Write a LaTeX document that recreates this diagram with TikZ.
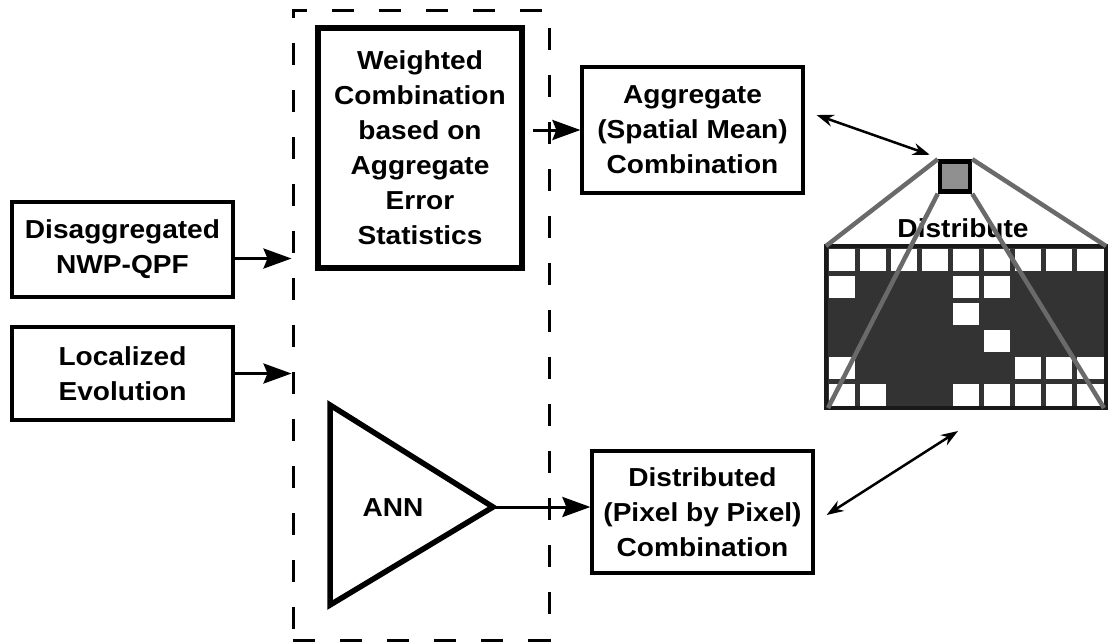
\documentclass[tikz,border=0pt]{standalone}
\usepackage{fontspec}
\setmainfont{Liberation Sans}[FakeStretch=1.08]
\usetikzlibrary{arrows.meta}
\definecolor{cellgray}{HTML}{333333}
\definecolor{raygray}{HTML}{6A6A6A}
\definecolor{sqgray}{HTML}{909090}
\begin{document}
\begin{tikzpicture}[x=1pt,y=-1pt,
  txt/.style={font=\fontsize{26}{35}\selectfont\bfseries, align=center, inner sep=0pt},
  box/.style={txt, draw, line width=3.2pt},
  arr/.style={line width=3pt, -{Stealth[length=28pt,width=20pt,inset=4pt]}},
  darr/.style={line width=2.5pt, {Stealth[length=17pt,width=12pt]}-{Stealth[length=17pt,width=12pt]}},
  ray/.style={draw=raygray, line width=4.5pt},
  dashbox/.style={draw, line width=3pt, dash pattern=on 22pt off 25pt, inner sep=0pt}
]
\useasboundingbox (0,0) rectangle (1108,643);

% left inputs
\node[box, minimum width=221pt, minimum height=95pt] (dis) at (122.5,249.5) {Disaggregated\\NWP-QPF};
\node[box, minimum width=221pt, minimum height=93pt] (loc) at (122.5,373.5) {Localized\\Evolution};

% dashed container
\node[dashbox, minimum width=256pt, minimum height=630pt] (dash) at (421,325) {};

% weighted combination
\node[box, line width=5.5pt, minimum width=204pt, minimum height=240pt] (wc) at (420,148)
  {Weighted\\Combination\\based on\\Aggregate\\Error\\Statistics};

% ANN triangle
\coordinate (t1) at (330,405);
\coordinate (t2) at (330,605);
\coordinate (apex) at (493,507);
\draw[line width=5.5pt, line join=miter] (t1) -- (apex) -- (t2) -- cycle;
\node[txt] (ann) at (393,508) {ANN};

% outputs
\node[box, minimum width=221pt, minimum height=126pt] (agg) at (692.5,130) {Aggregate\\(Spatial Mean)\\Combination};
\node[box, minimum width=221pt, minimum height=122pt] (dist) at (702.5,512) {Distributed\\(Pixel by Pixel)\\Combination};

% arrows
\draw[arr] ([yshift=-9pt]dis.east) -- ([yshift=-9pt]dis.east -| dash.west);
\draw[arr] (loc.east) -- (loc.east -| dash.west);
\coordinate (wcout) at ([xshift=8pt]wc.east);
\draw[arr] (wcout |- agg.west) -- (agg.west);
\draw[arr] (apex) -- (apex -| dist.west);

% grid
\coordinate (gtl) at (826,246);
\coordinate (gtr) at (1106,246);
\coordinate (gbl) at (828,408);
\coordinate (gbr) at (1104,408);
\fill[cellgray] (826,246) rectangle (1106,408);
\foreach \r/\c in {1/1,1/2,1/3,1/4,1/5,1/6,1/7,1/8,1/9,
                   2/1,2/5,2/6,3/5,4/6,5/1,5/7,5/8,5/9,
                   6/1,6/2,6/5,6/6,6/7,6/8,6/9}{
  \fill[white] ({826+(\c-1)*31.11+2.5},{246+(\r-1)*27+2.5}) rectangle ({826+\c*31.11-2.5},{246+\r*27-2.5});
}
\draw[line width=4pt, draw=black!90] (826,246) rectangle (1106,408);

\node[txt] (distr) at (963,228) {Distribute};

% small square and rays
\node[draw=black, line width=4.5pt, fill=sqgray, minimum size=30pt, inner sep=0pt] (sq) at (955,176.5) {};
\draw[ray] (sq.north west) -- (gtl);
\draw[ray] (sq.north east) -- (gtr);
\draw[ray] (sq.south west) -- (gbl);
\draw[ray] (sq.south east) -- (gbr);

% double arrows
\coordinate (gpt) at (958,431);
\draw[darr] ([shift={(12,-15)}]agg.east) -- ([shift={(-8,-4.5)}]sq.north west);
\draw[darr] ([shift={(12,3)}]dist.east) -- (gpt);
\end{tikzpicture}
\end{document}
